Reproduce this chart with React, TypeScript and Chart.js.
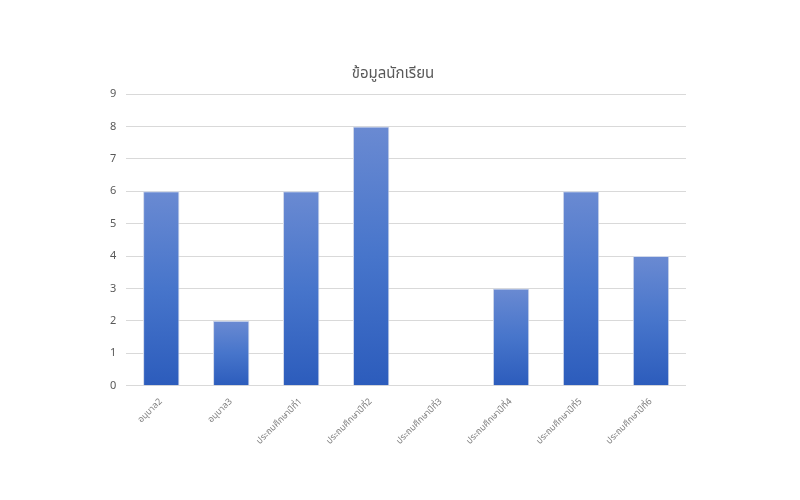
import React, { useEffect, useRef } from "react";
import { Chart, registerables } from "chart.js";

Chart.register(...registerables);

const categories = [
  "อนุบาล2",
  "อนุบาล3",
  "ประถมศึกษาปีที่1",
  "ประถมศึกษาปีที่2",
  "ประถมศึกษาปีที่3",
  "ประถมศึกษาปีที่4",
  "ประถมศึกษาปีที่5",
  "ประถมศึกษาปีที่6",
];
const students = [6, 2, 6, 8, 0, 3, 6, 4];
const chartTitle = "ข้อมูลนักเรียน";

export default function App() {
  const ref = useRef<HTMLCanvasElement | null>(null);
  useEffect(() => {
    if (!ref.current) return;
    const chart = new Chart(ref.current, {
      type: "bar",
      data: {
        labels: categories,
        datasets: [
          {
            label: chartTitle,
            data: students,
            backgroundColor: (ctx: any) => {
              const c = ctx.chart;
              const ys = c.scales?.y;
              if (!ys || ctx.type !== "data") return "#4472c4";
              const v = ctx.raw as number;
              const top = ys.getPixelForValue(v);
              const bottom = ys.getPixelForValue(0);
              if (!isFinite(top) || !isFinite(bottom) || top === bottom) return "#4472c4";
              const g = c.ctx.createLinearGradient(0, top, 0, bottom);
              g.addColorStop(0, "#6a8ad2");
              g.addColorStop(0.5, "#4775cb");
              g.addColorStop(1, "#2c5cbc");
              return g;
            },
            borderColor: "#d0d8ea",
            borderWidth: 1,
            barPercentage: 0.52,
            categoryPercentage: 1,
          },
        ],
      },
      options: {
        animation: false,
        responsive: false,
        layout: { padding: { left: 100, right: 114, top: 66, bottom: 50 } },
        plugins: {
          legend: { display: false },
          tooltip: { enabled: false },
          title: {
            display: true,
            text: chartTitle,
            color: "#595959",
            font: { size: 15, family: "'Noto Sans Thai', 'Noto Sans', 'DejaVu Sans', sans-serif", weight: "normal" },
            padding: { top: 0, bottom: 10 },
          },
        },
        scales: {
          x: {
            grid: { display: false },
            border: { display: false },
            ticks: {
              color: "#7f7f7f",
              font: { size: 9, family: "'Noto Sans Thai', 'Noto Sans', 'DejaVu Sans', sans-serif" },
              maxRotation: 45,
              minRotation: 45,
              autoSkip: false,
            },
          },
          y: {
            min: 0,
            max: 9,
            ticks: {
              stepSize: 1,
              color: "#595959",
              font: { size: 11, family: "'Noto Sans', 'DejaVu Sans', sans-serif" },
              padding: 10,
            },
            grid: { color: "#d9d9d9", drawTicks: false },
            border: { display: false },
          },
        },
      },
    });
    return () => chart.destroy();
  }, []);
  return (
    <div style={{ position: "fixed", left: 0, top: 0, width: 800, height: 500, background: "#fff" }}>
      <canvas ref={ref} width={800} height={500} style={{ width: 800, height: 500 }} />
    </div>
  );
}
